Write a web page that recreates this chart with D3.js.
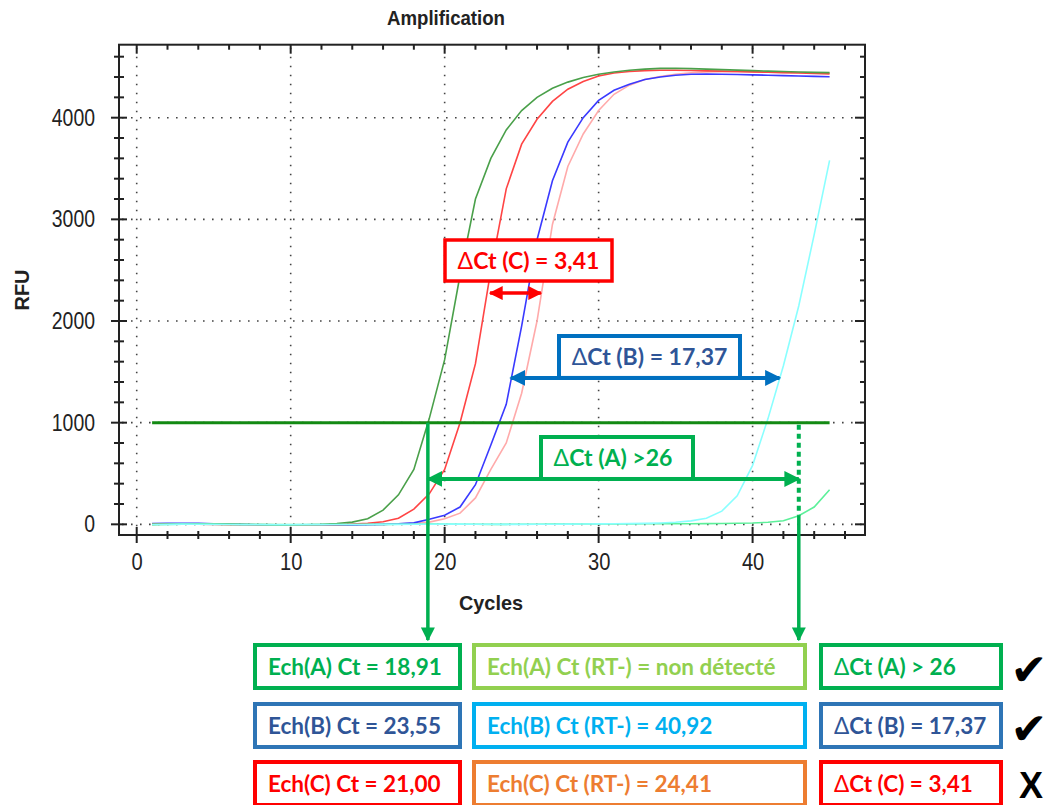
<!DOCTYPE html>
<html><head><meta charset="utf-8">
<script src="https://cdn.jsdelivr.net/npm/d3@7"></script>
<style>body{margin:0;background:#fff}svg{display:block}</style>
</head><body><svg id="c" width="1051" height="805"></svg>
<script>
// ---------- data ----------
const cycles = [1,2,3,4,5,6,7,8,9,10,11,12,13,14,15,16,17,18,19,20,21,22,23,24,25,26,27,28,29,30,31,32,33,34,35,36,37,38,39,40,41,42,43,44,45];
const echA = [0,3,5,6,4,2,0,-3,-5,-6,-4,0,8,22,55,140,290,540,1040,1620,2450,3200,3600,3880,4070,4200,4290,4350,4395,4428,4450,4466,4478,4485,4486,4483,4478,4473,4468,4463,4458,4454,4450,4446,4443];
const echC = [2,4,3,1,-1,-3,-4,-6,-7,-8,-8,-6,-3,2,10,25,60,150,300,540,1000,1580,2500,3300,3740,3985,4160,4280,4355,4410,4440,4455,4463,4466,4466,4464,4461,4458,4455,4451,4447,4443,4439,4435,4431];
const echB = [8,10,9,10,6,2,-2,-5,-6,-7,-8,-8,-7,-5,-3,0,5,14,50,90,170,390,780,1180,1950,2800,3380,3760,4000,4170,4270,4330,4375,4400,4418,4427,4430,4428,4425,4421,4418,4414,4410,4406,4402];
const echCRT = [0,2,4,3,1,-1,-3,-4,-5,-6,-6,-5,-4,-3,-2,0,4,10,22,55,110,260,540,800,1290,2000,2950,3520,3840,4070,4230,4320,4375,4405,4428,4442,4450,4452,4452,4450,4448,4446,4444,4442,4440];
const echBRT = [-2,0,2,1,0,-2,-3,-3,-4,-4,-3,-3,-2,-2,-1,0,0,1,1,2,2,1,1,0,0,1,1,2,3,4,5,7,9,13,20,34,60,130,280,580,1040,1560,2150,2850,3580];
const echART = [-3,-1,1,2,1,0,-1,-2,-3,-3,-2,-2,-1,-1,0,0,1,1,2,2,1,1,0,0,1,1,2,2,3,3,4,4,5,5,6,6,7,8,10,13,20,35,85,170,340];
const seriesNames = ["Ech(C) RT-","Ech(B)","Ech(C)","Ech(A)","Ech(A) RT-","Ech(B) RT-"];
const seriesColors = ["#ffaaaa","#3a3aff","#ff4444","#4aa04a","#5cf09a","#8affff"];
const seriesValues = [echCRT, echB, echC, echA, echART, echBRT];
const threshold = 1000;
const xMajor = [0,10,20,30,40];
const yMajor = [0,1000,2000,3000,4000];
// annotations (cycle / RFU)
const ctA = 18.91, ctART = 43.0;
const arrowC = {from:22.95, to:26.25, rfu:2275, label:"Ct (C) = 3,41"};
const arrowB = {from:24.3, to:41.75, rfu:1440, label:"Ct (B) = 17,37"};
const arrowA = {from:ctA, to:ctART, rfu:446, label:"Ct (A) >26"};
const tableRows = [
  ["Ech(A) Ct = 18,91","Ech(A) Ct (RT-) = non détecté","\u0394Ct (A) > 26","\u2714"],
  ["Ech(B) Ct = 23,55","Ech(B) Ct (RT-) = 40,92","\u0394Ct (B) = 17,37","\u2714"],
  ["Ech(C) Ct = 21,00","Ech(C) Ct (RT-) = 24,41","\u0394Ct (C) = 3,41","X"]
];
const tableColors = [
  [["#00b050","#00b050"],["#92d050","#92d050"],["#00b050","#00b050"]],
  [["#2e75b6","#2f5597"],["#00b0f0","#00b0f0"],["#2e75b6","#2f5597"]],
  [["#ff0000","#ff0000"],["#ed7d31","#ed7d31"],["#ff0000","#ff0000"]]
];

// ---------- drawing ----------
const svg = d3.select("#c");
const L=119,R=865,T=44.7,B=535;
const x = d3.scaleLinear().domain([-1.15,47.3]).range([L,R]);
const y = d3.scaleLinear().domain([-105,4718]).range([B,T]);
const axisFont = "'Liberation Sans',Arial,sans-serif";
const boxFont = "Lato,'Open Sans',sans-serif";

// grid
const grid = svg.append("g").attr("stroke","#444").attr("stroke-width",1.6).attr("stroke-dasharray","1.6,7.4");
grid.selectAll("line.v").data(xMajor).join("line").attr("x1",d=>x(d)).attr("x2",d=>x(d)).attr("y1",T+3).attr("y2",B-3);
grid.selectAll("line.h").data(yMajor).join("line").attr("y1",d=>y(d)).attr("y2",d=>y(d)).attr("x1",L+3).attr("x2",R-3);

// frame
svg.append("rect").attr("x",L).attr("y",T).attr("width",R-L).attr("height",B-T).attr("fill","none").attr("stroke","#222").attr("stroke-width",2);

const xMinor = d3.range(0,47,2), yMinor = d3.range(0,4701,200);
const tk = svg.append("g").attr("stroke","#222").attr("stroke-width",2);
tk.selectAll("line.bx").data(xMinor).join("line").attr("x1",d=>x(d)).attr("x2",d=>x(d))
  .attr("y1",d=>d%10===0?B-8:B-4).attr("y2",d=>d%10===0?B+8:B+4);
tk.selectAll("line.tx").data(xMinor).join("line").attr("x1",d=>x(d)).attr("x2",d=>x(d))
  .attr("y1",T).attr("y2",d=>d%10===0?T+9:T+5);
tk.selectAll("line.ly").data(yMinor).join("line").attr("y1",d=>y(d)).attr("y2",d=>y(d))
  .attr("x1",d=>d%1000===0?L-8:L-5).attr("x2",d=>d%1000===0?L+8:L+5);
tk.selectAll("line.ry").data(yMinor).join("line").attr("y1",d=>y(d)).attr("y2",d=>y(d))
  .attr("x1",R).attr("x2",d=>d%1000===0?R-10:R-5);

// axes labels via d3 axes
const ax = svg.append("g").attr("transform",`translate(0,${B})`)
  .call(d3.axisBottom(x).tickValues(xMajor).tickFormat(d3.format("d")).tickSize(0).tickPadding(19));
ax.select(".domain").remove();
ax.selectAll("text").attr("font-family",axisFont).attr("font-size",23).attr("fill","#222")
  .attr("textLength",d=>String(d).length*11.2).attr("lengthAdjust","spacingAndGlyphs");
const ay = svg.append("g").attr("transform",`translate(${L},0)`)
  .call(d3.axisLeft(y).tickValues(yMajor).tickFormat(d3.format("d")).tickSize(0).tickPadding(24));
ay.select(".domain").remove();
ay.selectAll("text").attr("font-family",axisFont).attr("font-size",23).attr("fill","#222")
  .attr("textLength",d=>String(d).length*10.8).attr("lengthAdjust","spacingAndGlyphs");

// titles
svg.append("text").attr("x",446).attr("y",25).attr("text-anchor","middle").attr("font-family",axisFont)
  .attr("font-weight","bold").attr("font-size",20).attr("fill","#222").attr("textLength",118).attr("lengthAdjust","spacingAndGlyphs").text("Amplification");
svg.append("text").attr("x",491).attr("y",610).attr("text-anchor","middle").attr("font-family",axisFont)
  .attr("font-weight","bold").attr("font-size",21).attr("fill","#222").attr("textLength",64).attr("lengthAdjust","spacingAndGlyphs").text("Cycles");
svg.append("text").attr("transform","translate(29,290) rotate(-90)").attr("text-anchor","middle").attr("font-family",axisFont)
  .attr("font-weight","bold").attr("font-size",20).attr("fill","#222").text("RFU");

// curves
const line = d3.line().x((d,i)=>x(cycles[i])).y(d=>y(d));
svg.append("g").selectAll("path").data(seriesValues).join("path")
  .attr("d",d=>line(d)).attr("fill","none").attr("stroke",(d,i)=>seriesColors[i]).attr("stroke-width",1.6);

// threshold
svg.append("line").attr("x1",x(1)).attr("x2",x(45)).attr("y1",y(threshold)).attr("y2",y(threshold))
  .attr("stroke","#138a13").attr("stroke-width",3);

// markers
const defs = svg.append("defs");
function marker(id,color){
  defs.append("marker").attr("id",id).attr("viewBox","0 0 10 10").attr("refX",9).attr("refY",5)
    .attr("markerWidth",4).attr("markerHeight",4).attr("orient","auto-start-reverse").attr("markerUnits","strokeWidth")
    .append("path").attr("d","M0,0 L10,5 L0,10 z").attr("fill",color);
}
marker("mg","#00b050"); marker("mb","#0070c0"); marker("mr","#ff0000");

// vertical green lines to the table
const gcol="#00b050";
svg.append("line").attr("x1",x(ctA)).attr("x2",x(ctA)).attr("y1",y(threshold)).attr("y2",640)
  .attr("stroke",gcol).attr("stroke-width",3.5).attr("marker-end","url(#mg)");
svg.append("line").attr("x1",x(ctART)).attr("x2",x(ctART)).attr("y1",y(threshold)+2).attr("y2",y(90))
  .attr("stroke",gcol).attr("stroke-width",4).attr("stroke-dasharray","5,4");
svg.append("line").attr("x1",x(ctART)).attr("x2",x(ctART)).attr("y1",y(90)).attr("y2",640)
  .attr("stroke",gcol).attr("stroke-width",3.5).attr("marker-end","url(#mg)");

// annotation arrows + boxes
function annot(a, col, textCol, mk, box, sw, dx){
  svg.append("line").attr("x1",x(a.from)).attr("x2",x(a.to)).attr("y1",y(a.rfu)).attr("y2",y(a.rfu))
    .attr("stroke",col).attr("stroke-width",sw).attr("marker-start",`url(#${mk})`).attr("marker-end",`url(#${mk})`);
  svg.append("rect").attr("x",box[0]).attr("y",box[1]).attr("width",box[2]).attr("height",box[3])
    .attr("fill","#fff").attr("stroke",col).attr("stroke-width",sw);
  const t = svg.append("text").attr("x",box[0]+box[2]/2+dx).attr("y",box[1]+box[3]/2+8).attr("text-anchor","middle")
    .attr("font-family",boxFont).attr("font-weight","bold").attr("font-size",23).attr("fill",textCol);
  t.append("tspan").attr("font-weight",400).text("\u0394");
  t.append("tspan").text(a.label);
}
annot(arrowC,"#ff0000","#ff0000","mr",[445,240,167,41],3.5,0);
annot(arrowB,"#0070c0","#2f5597","mb",[559,336,181,y(arrowB.rfu)-336],4,0);
annot(arrowA,"#00b050","#00b050","mg",[541,437,152,y(arrowA.rfu)-437],4,-4);

// table
const colX = [[255,205],[474,331],[821,180]];
const rowY = [645,704,762];
tableRows.forEach((row,ri)=>{
  row.slice(0,3).forEach((txt,ci)=>{
    svg.append("rect").attr("x",colX[ci][0]).attr("y",rowY[ri]).attr("width",colX[ci][1]).attr("height",43)
      .attr("fill","#fff").attr("stroke",tableColors[ri][ci][0]).attr("stroke-width",4);
    const t = svg.append("text").attr("x",colX[ci][0]+13).attr("y",rowY[ri]+30).attr("font-family",boxFont)
      .attr("font-weight","bold").attr("font-size",22.5).attr("fill",tableColors[ri][ci][1]);
    if (txt[0]==="\u0394") { t.append("tspan").attr("font-weight",400).text("\u0394"); t.append("tspan").text(txt.slice(1)); }
    else t.text(txt);
  });
  const mark = row[3];
  svg.append("text").attr("x",mark==="X"?1031:1029).attr("y",rowY[ri]+(mark==="X"?36:40)).attr("text-anchor","middle")
    .attr("font-family",mark==="X"?"'Liberation Sans',Arial,sans-serif":"'DejaVu Sans',sans-serif")
    .attr("font-weight","bold").attr("font-size",mark==="X"?36:44).attr("fill","#000").text(mark);
});
</script></body></html>
